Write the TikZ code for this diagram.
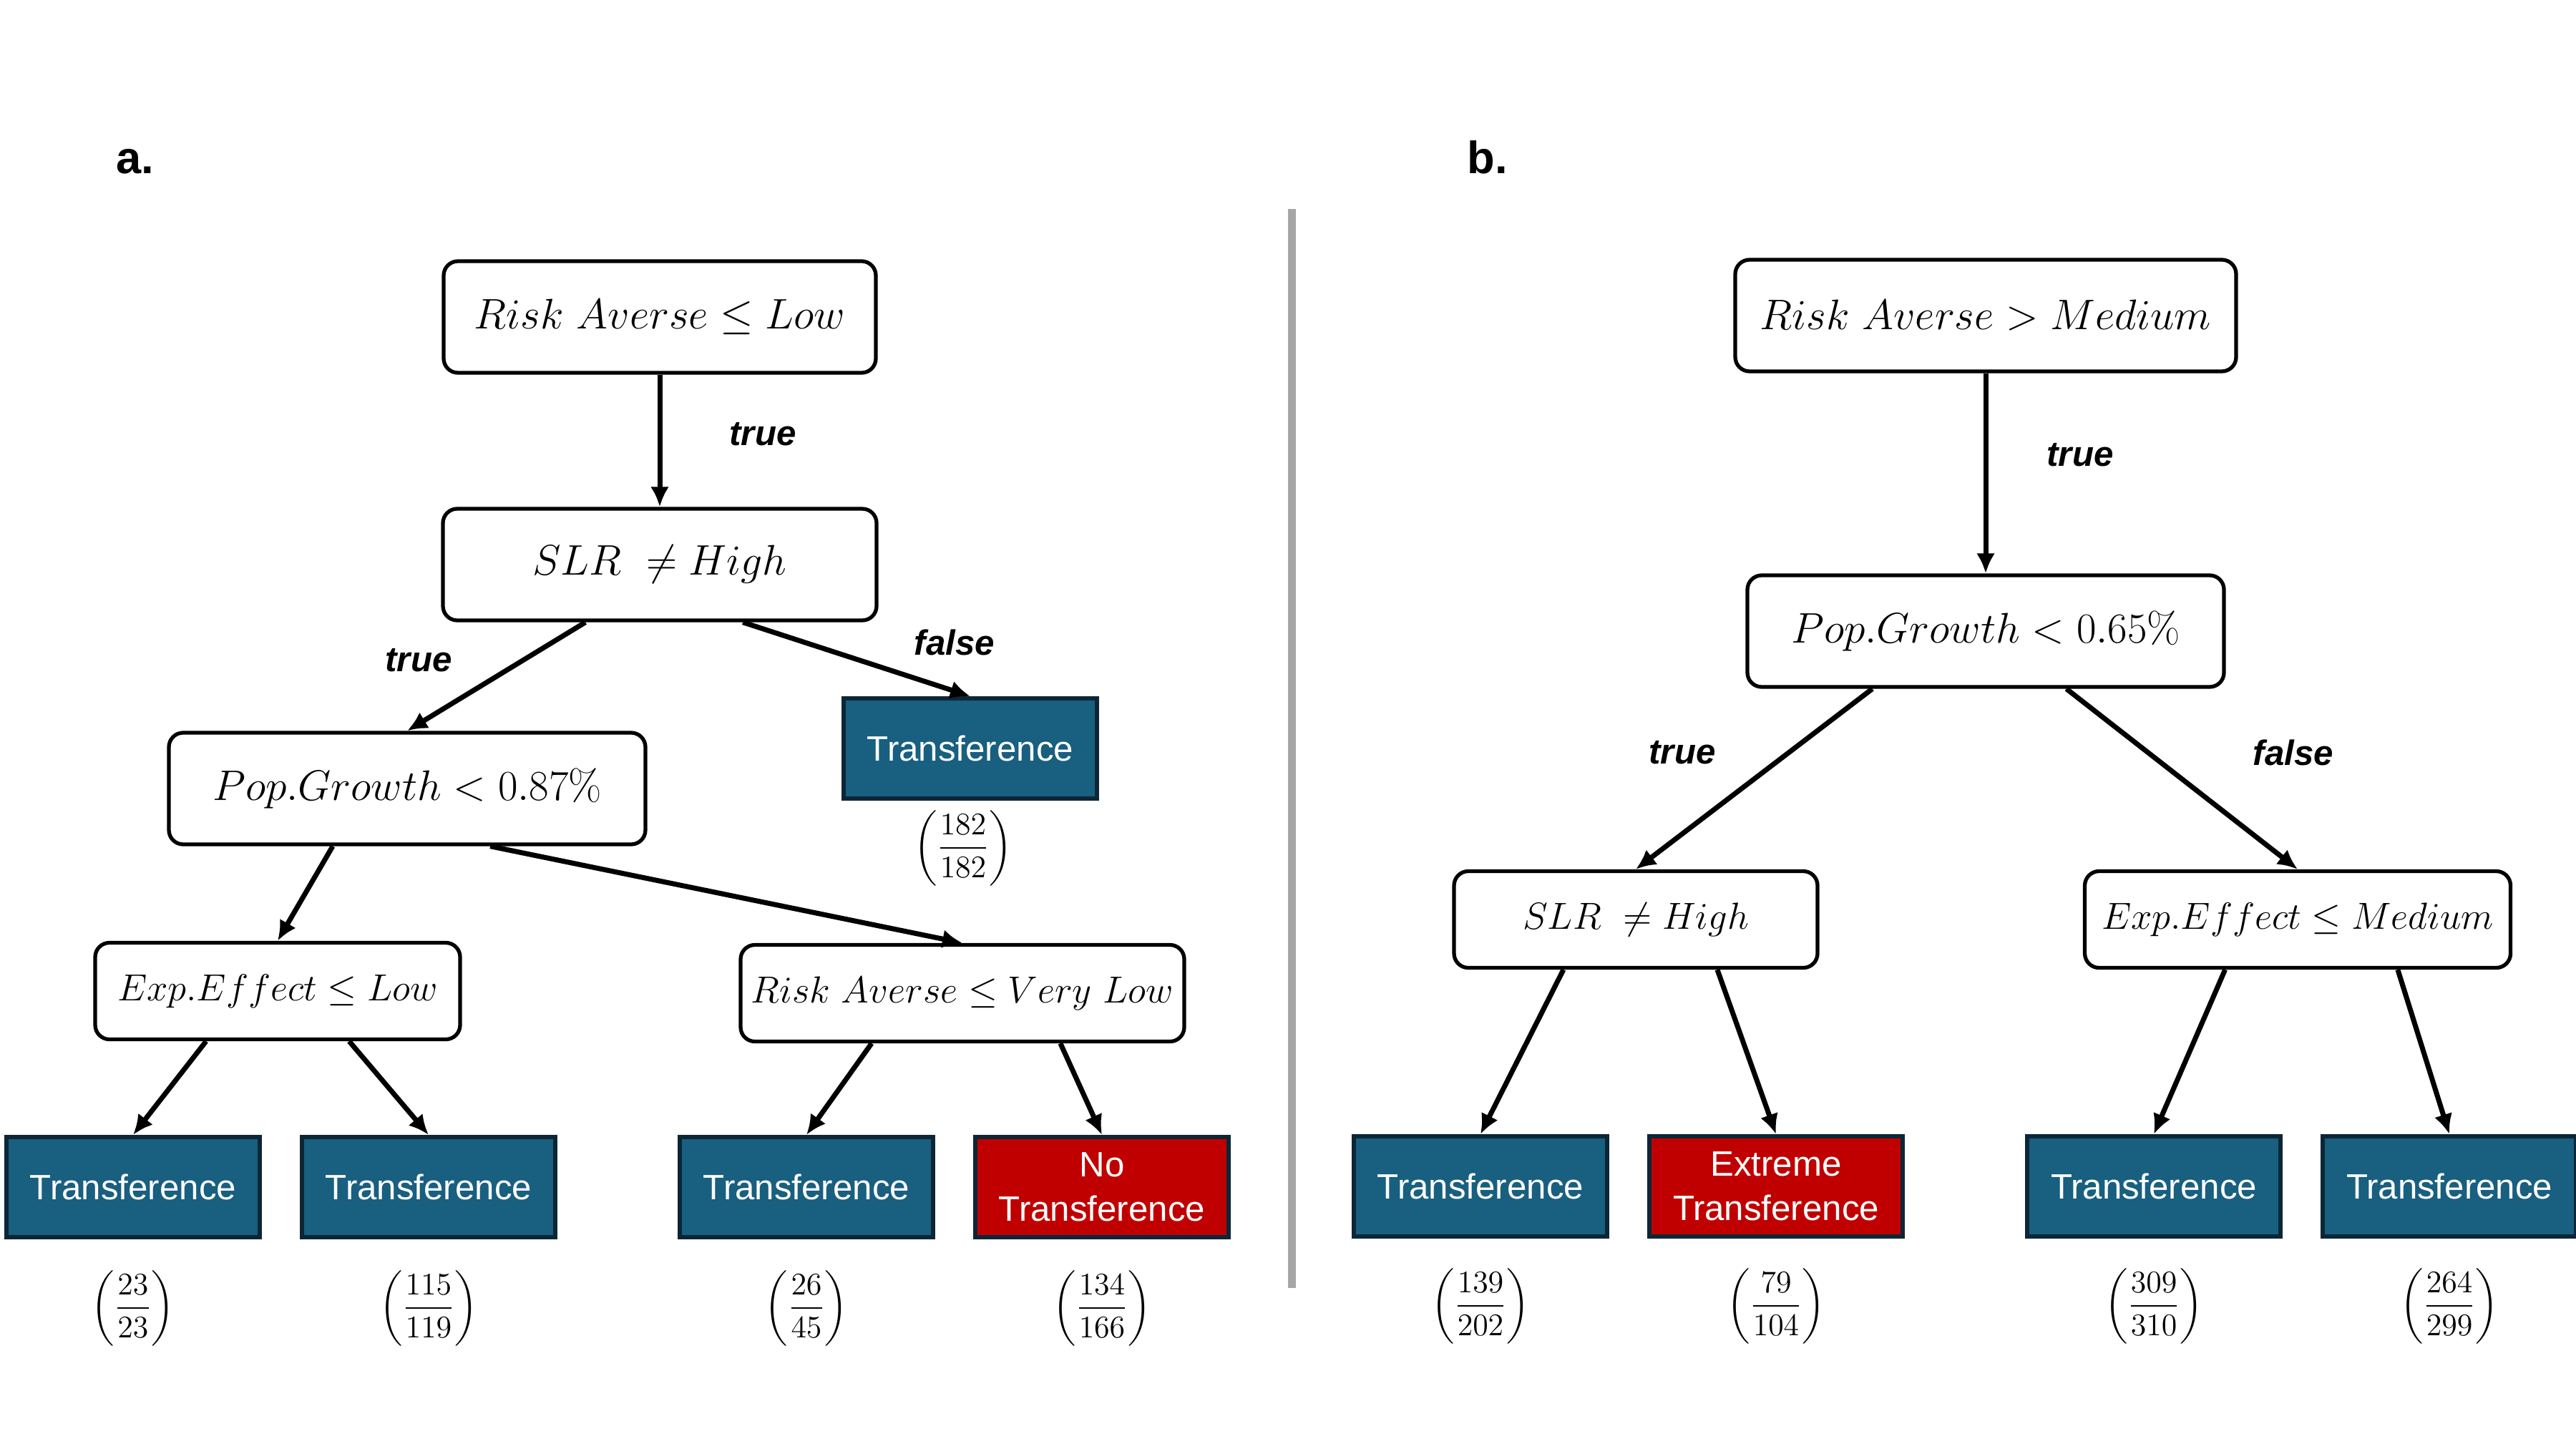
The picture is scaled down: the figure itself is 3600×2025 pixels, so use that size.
\documentclass[tikz,border=0pt]{standalone}
\usepackage{fix-cm}
\usepackage{amsmath}
\usepackage{amssymb}
\usepackage{fontspec}
\usepackage{xcolor}
\usepackage{tikz}
\usetikzlibrary{arrows.meta,calc}
\newfontfamily\leaffont{Liberation Sans}
\definecolor{leafblue}{HTML}{185F80}
\definecolor{leafred}{HTML}{C00000}
\definecolor{leafline}{HTML}{0C2636}
\definecolor{splitgray}{HTML}{A6A6A6}
\tikzset{
    cond/.style={draw, line width=1.5pt, rounded corners=2mm, fill=white, minimum height=15.6mm, font=\fontsize{17}{20}\selectfont},
    smallcond/.style={cond, minimum height=13.5mm, font=\fontsize{15}{18}\selectfont},
    leaf/.style={draw=leafline, line width=1.7pt, fill=leafblue, text=white, minimum width=35.4mm, minimum height=14mm, align=center, font=\leaffont\fontsize{14}{17.5}\selectfont},
    hotleaf/.style={leaf, fill=leafred},
    branch/.style={font=\leaffont\bfseries\itshape\fontsize{14}{17}\selectfont},
    edge/.style={-{Latex[length=2.8mm,width=2.6mm]}, line width=2pt},
    count/.style={font=\fontsize{12.5}{15}\selectfont},
    panel/.style={anchor=base west, inner sep=0pt, font=\leaffont\bfseries\fontsize{18}{21}\selectfont}
}

\begin{document}
\begin{tikzpicture}[x=0.1mm,y=-0.1mm]
    \useasboundingbox (0,0) rectangle (3600,2025);
    \node[panel] (labA) at (162,243) {a.};
    \node[panel] (labB) at (2050,243) {b.};
    \draw[splitgray, line width=1.1mm] (1805,292) -- (1805,1800);

    % tree a
    \node[cond, minimum width=60.4mm] (rootA) at (922,443) {$Risk\ Averse \leq Low$};
    \node[cond, minimum width=60.6mm] (slrA) at (922,789) {$SLR\ \neq High$};
    \node[cond, minimum width=66.6mm] (popA) at (569,1102) {$Pop.Growth < 0.87\%$};
    \node[smallcond, minimum width=51mm] (expA) at (388,1385) {$Exp.Effect \leq Low$};
    \node[smallcond, minimum width=62mm] (raA) at (1345,1388) {$Risk\ Averse \leq Very\ Low$};
    \node[leaf] (leafA0) at (1356,1046) {Transference};
    \node[leaf] (leafA1) at (186,1659) {Transference};
    \node[leaf] (leafA2) at (599,1659) {Transference};
    \node[leaf] (leafA3) at (1127,1659) {Transference};
    \node[hotleaf] (leafA4) at (1540,1659) {No\\Transference};

    \draw[edge] (rootA) -- (slrA);
    \draw[edge] ($(slrA.south west)!.33!(slrA.south east)$) -- (popA.north);
    \draw[edge] ($(slrA.south west)!.69!(slrA.south east)$) -- (leafA0.north);
    \draw[edge] ($(popA.south west)!.345!(popA.south east)$) -- (expA.north);
    \draw[edge] ($(popA.south west)!.673!(popA.south east)$) -- (raA.north);
    \draw[edge] ($(expA.south west)!.306!(expA.south east)$) -- (leafA1.north);
    \draw[edge] ($(expA.south west)!.694!(expA.south east)$) -- (leafA2.north);
    \draw[edge] ($(raA.south west)!.297!(raA.south east)$) -- (leafA3.north);
    \draw[edge] ($(raA.south west)!.719!(raA.south east)$) -- (leafA4.north);

    \node[branch] (tA1) at (1066,607) {true};
    \node[branch] (tA2) at (585,923) {true};
    \node[branch] (fA1) at (1334,898) {false};

    \node[count] (nA0) at (1346,1185) {$\left(\dfrac{182}{182}\right)$};
    \node[count] (nA1) at (186,1828) {$\left(\dfrac{23}{23}\right)$};
    \node[count] (nA2) at (599,1828) {$\left(\dfrac{115}{119}\right)$};
    \node[count] (nA3) at (1127,1828) {$\left(\dfrac{26}{45}\right)$};
    \node[count] (nA4) at (1540,1828) {$\left(\dfrac{134}{166}\right)$};

    % tree b
    \node[cond, minimum width=70mm] (rootB) at (2775,441) {$Risk\ Averse > Medium$};
    \node[cond, minimum width=66.6mm] (popB) at (2775,882) {$Pop.Growth < 0.65\%$};
    \node[smallcond, minimum width=50.8mm] (slrB) at (2286,1285) {$SLR\ \neq High$};
    \node[smallcond, minimum width=59.5mm] (expB) at (3211,1285) {$Exp.Effect \leq Medium$};
    \node[leaf] (leafB1) at (2069,1658) {Transference};
    \node[hotleaf] (leafB2) at (2482,1658) {Extreme\\Transference};
    \node[leaf] (leafB3) at (3010,1658) {Transference};
    \node[leaf] (leafB4) at (3423,1658) {Transference};

    \draw[edge] (rootB) -- (popB);
    \draw[edge] ($(popB.south west)!.264!(popB.south east)$) -- (slrB.north);
    \draw[edge] ($(popB.south west)!.668!(popB.south east)$) -- (expB.north);
    \draw[edge] ($(slrB.south west)!.303!(slrB.south east)$) -- (leafB1.north);
    \draw[edge] ($(slrB.south west)!.722!(slrB.south east)$) -- (leafB2.north);
    \draw[edge] ($(expB.south west)!.331!(expB.south east)$) -- (leafB3.north);
    \draw[edge] ($(expB.south west)!.733!(expB.south east)$) -- (leafB4.north);

    \node[branch] (tB1) at (2907,636) {true};
    \node[branch] (tB2) at (2351,1052) {true};
    \node[branch] (fB1) at (3205,1052) {false};

    \node[count] (nB1) at (2069,1825) {$\left(\dfrac{139}{202}\right)$};
    \node[count] (nB2) at (2482,1825) {$\left(\dfrac{79}{104}\right)$};
    \node[count] (nB3) at (3010,1825) {$\left(\dfrac{309}{310}\right)$};
    \node[count] (nB4) at (3423,1825) {$\left(\dfrac{264}{299}\right)$};
\end{tikzpicture}
\end{document}
